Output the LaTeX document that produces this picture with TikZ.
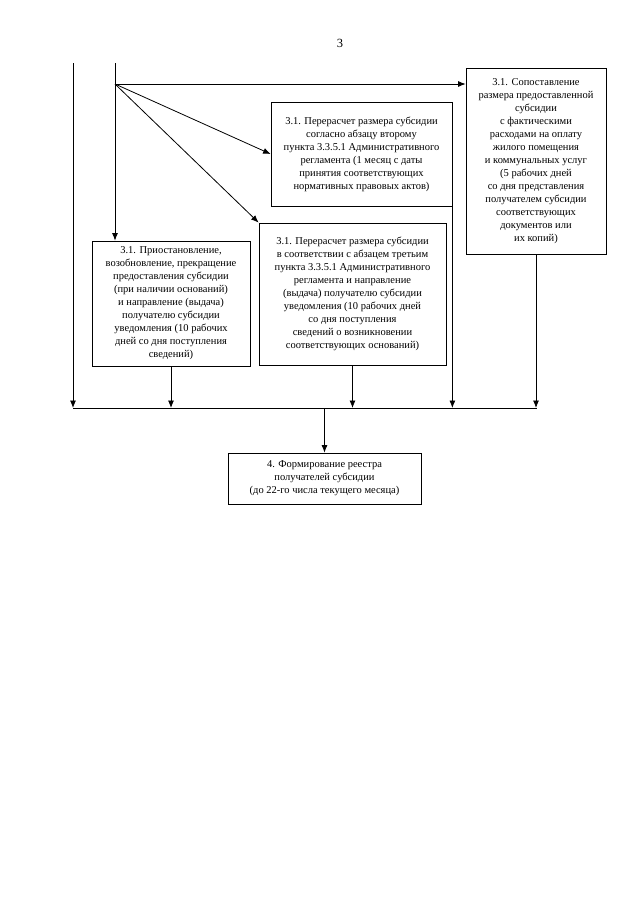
\documentclass[tikz,border=0pt]{standalone}
\usepackage{fontspec}
\setmainfont{Liberation Serif}
\usepackage{tikz}
\usetikzlibrary{arrows}
\usetikzlibrary{arrows.meta}

\begin{document}
\begin{tikzpicture}[x=1pt,y=-1pt,
	line width=0.8pt,
	box/.style={draw, align=center, inner sep=0pt, font=\fontsize{10.5}{13}\selectfont},
	arr/.style={-{Latex[length=7.5pt,width=6pt]}}]
\useasboundingbox (0,0) rectangle (640,905);
\node (pg) at (340,43) {\fontsize{12.5}{14}\selectfont 3};

\node[box, minimum width=158, minimum height=125] (b1) at (171,303.5)
{3.1. Приостановление,\\ возобновление, прекращение\\ предоставления субсидии\\ (при наличии оснований)\\ и направление (выдача)\\ получателю субсидии\\ уведомления (10 рабочих\\ дней со дня поступления\\ сведений)};
\node[box, minimum width=181, minimum height=104] (b2) at (361.5,154)
{3.1. Перерасчет размера субсидии\\ согласно абзацу второму\\ пункта 3.3.5.1 Административного\\ регламента (1 месяц с даты\\ принятия соответствующих\\ нормативных правовых актов)};
\node[box, minimum width=187, minimum height=142] (b3) at (352.5,294)
{3.1. Перерасчет размера субсидии\\ в соответствии с абзацем третьим\\ пункта 3.3.5.1 Административного\\ регламента и направление\\ (выдача) получателю субсидии\\ уведомления (10 рабочих дней\\ со дня поступления\\ сведений о возникновении\\ соответствующих оснований)};
\node[box, minimum width=140, minimum height=186] (r) at (536,161.5)
{3.1. Сопоставление\\ размера предоставленной\\ субсидии\\ с фактическими\\ расходами на оплату\\ жилого помещения\\ и коммунальных услуг\\ (5 рабочих дней\\ со дня представления\\ получателем субсидии\\ соответствующих\\ документов или\\ их копий)};
\node[box, minimum width=193, minimum height=51] (b4) at (324.5,478.5)
{4. Формирование реестра\\ получателей субсидии\\ (до 22-го числа текущего месяца)};

\coordinate (t1) at (73,63);
\coordinate (t2) at (115,63);
\coordinate (f) at (115,84);
\coordinate (busl) at (73,408);
\coordinate (busr) at (537,408);
\coordinate (busm) at (324.5,408);

\draw (t2) -- (f);
\draw (busl) -- (busr);
\path[arr]
(t1) edge (busl)
(f) edge (f |- b1.north)
edge (f -| r.west)
edge (b2.west)
edge (b3.north west)
(b1.south) edge (b1.south |- busl)
(b2.south east) edge (b2.south east |- busl)
(b3.south) edge (b3.south |- busl)
(r.south) edge (r.south |- busl)
(busm) edge (b4.north)
;
\end{tikzpicture}
\end{document}
